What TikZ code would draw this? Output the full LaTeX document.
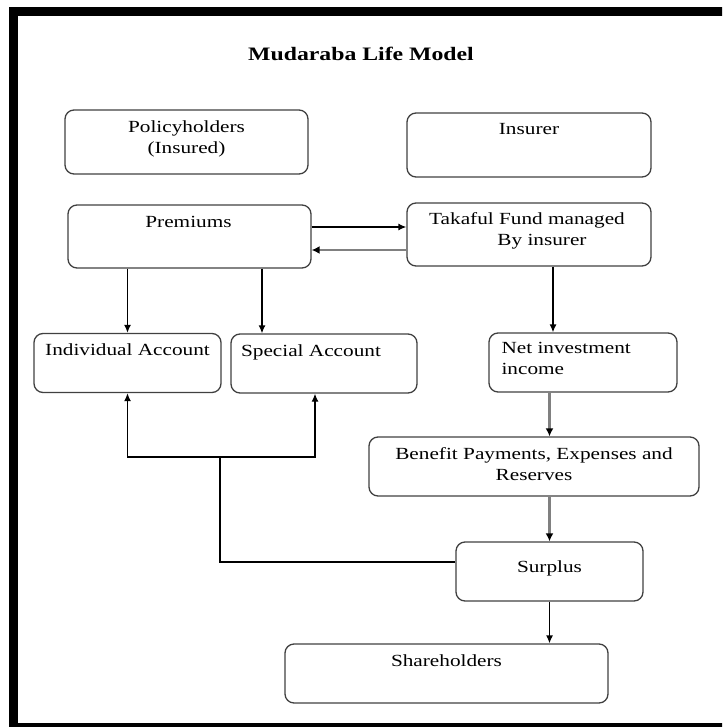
\documentclass[tikz,border=0pt]{standalone}
\usepackage{fontspec}
\setmainfont{Liberation Serif}[FakeStretch=1.25]
\usepackage{tikz}
\usetikzlibrary{calc,arrows.meta}

\begin{document}
\begin{tikzpicture}[x=1pt,y=-1pt,
        box/.style={draw=black!75,line width=1.3pt,rounded corners=9pt,minimum width=#1,minimum height=59pt,inner sep=0pt},
        txt/.style={font=\fontsize{17}{21}\selectfont,align=center,inner sep=0pt},
        arr/.style={line width=1.3pt,-{Latex[length=8pt,width=7pt]}},
        garr/.style={line width=2.8pt,draw=black!50,-{Latex[length=8pt,width=8pt,color=black]}}]
        \clip (0,0) rectangle (722,727);
        \draw[line width=8.5pt] (13.5,11.5) rectangle (740,727);
        \node[font=\bfseries\fontsize{19}{23}\selectfont] (title) at (361,54) {Mudaraba Life Model};
        \node[box=243pt,minimum height=64pt] (pol) at (186.5,142) {};
        \node[box=244pt,minimum height=64pt] (ins) at (529,145) {};
        \node[box=243pt,minimum height=63pt] (prem) at (189.5,236.5) {};
        \node[box=244pt,minimum height=63pt] (fund) at (529,234.5) {};
        \node[box=187pt] (indiv) at (127.5,363) {};
        \node[box=186pt] (spec) at (324,363.5) {};
        \node[box=188pt] (net) at (583,362.5) {};
        \node[box=330pt] (ben) at (534,466.5) {};
        \node[box=187pt] (sur) at (549.5,571.5) {};
        \node[box=323pt] (share) at (446.5,673.5) {};
        \node[txt,anchor=north] (poltxt) at ($(pol.north)+(0,11)$) {Policyholders\\(Insured)};
        \node[txt,anchor=north] (instxt) at ($(ins.north)+(0,11)$) {Insurer};
        \node[txt,anchor=north] (premtxt) at ($(prem.north)+(-1,12)$) {Premiums};
        \node[txt,anchor=north] (fundtxt) at ($(fund.north)+(-2,10)$) {Takaful Fund managed\\\hspace*{30pt}By insurer};
        \node[txt,anchor=north] (indivtxt) at ($(indiv.north)+(0,11)$) {Individual Account};
        \node[txt,anchor=north] (spectxt) at ($(spec.north)+(-13,11)$) {Special Account};
        \node[txt,anchor=north west,align=left] (nettxt) at ($(net.north west)+(13,10)$) {Net investment\\income};
        \node[txt,anchor=north] (bentxt) at ($(ben.north)+(0,11)$) {Benefit Payments, Expenses and\\Reserves};
        \node[txt,anchor=north] (surtxt) at ($(sur.north)+(0,19)$) {Surplus};
        \node[txt,anchor=north] (sharetxt) at ($(share.north)+(0,11)$) {Shareholders};
        \draw[arr] (prem.east |- 0,227) -- (fund.west |- 0,227);
        \draw[garr] (fund.west |- 0,250) -- (prem.east |- 0,250);
        \draw[arr] (prem.south -| indiv.north) -- (indiv.north);
        \draw[arr] (prem.south -| 262,0) -- (spec.north -| 262,0);
        \draw[arr] (fund.south -| 553,0) -- (net.north -| 553,0);
        \draw[garr] (net.south -| sur.north) -- (ben.north -| sur.north);
        \draw[garr] (ben.south -| sur.north) -- (sur.north);
        \draw[arr] (sur.south) -- (share.north -| sur.south);
        \coordinate (split) at (220,457);
        \draw[line width=1.3pt] (sur.west |- 0,562) -| (split);
        \draw[arr] (split) -| (indiv.south);
        \draw[arr] (split) -| (spec.south -| 315,0);
    \end{tikzpicture}
\end{document}
